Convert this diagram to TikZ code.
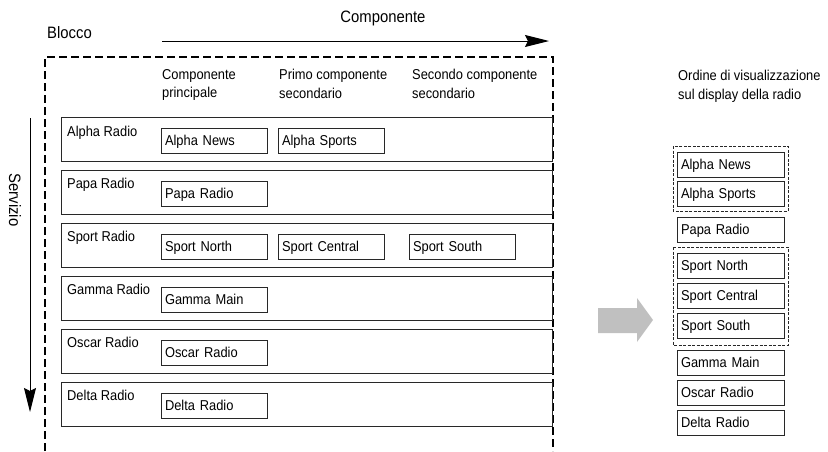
\documentclass[tikz,border=0pt]{standalone}
\usepackage{fontspec}
\setmainfont{Liberation Sans}[FakeStretch=0.9]
\usetikzlibrary{arrows.meta}
\definecolor{linegray}{RGB}{40,40,40}
\definecolor{arrowgray}{RGB}{192,192,192}
\tikzset{
  rowbox/.style={draw=linegray, line width=1.2pt, anchor=north west, minimum width=491pt, minimum height=44pt, inner sep=0pt},
  itembox/.style={draw=linegray, line width=1.1pt, anchor=north west, text width=99pt, inner xsep=3.5pt, inner ysep=0pt, minimum height=25pt, align=left, text height=10.5pt, text depth=2.5pt, font=\fontsize{14.3}{16}\selectfont},
  listbox/.style={itembox, text width=100pt},
  rowlabel/.style={anchor=base west, inner sep=0pt, font=\fontsize{14.3}{16}\selectfont},
  header/.style={anchor=north west, inner sep=0pt, align=left, font=\fontsize{14.3}{18.5}\selectfont},
  biglabel/.style={inner sep=0pt, font=\fontsize{16.5}{18}\selectfont},
  blockline/.style={draw=black, line width=1.9pt, dash pattern=on 8pt off 4pt},
  groupline/.style={draw=linegray, line width=0.9pt, dash pattern=on 3pt off 1.5pt},
  axisarrow/.style={draw=black, line width=1pt, -{Stealth[length=24pt, width=12pt, inset=3pt]}}
}
\begin{document}
\begin{tikzpicture}[x=1pt, y=-1pt]
\useasboundingbox (0,0) rectangle (828,451);

% titles and axes
\node[biglabel, anchor=west] (blocco) at (47,33) {Blocco};
\node[biglabel] (comp) at (383,18) {Componente};
\coordinate (ca) at (162,41);
\coordinate (cb) at (549,41);
\draw[axisarrow] (ca) -- (cb);
\node[biglabel, rotate=-90] (serv) at (15,200) {Servizio};
\coordinate (sa) at (30,118);
\coordinate (sb) at (30,412);
\draw[axisarrow] (sa) -- (sb);

% block (dashed, open at the bottom)
\coordinate (b1) at (45,451);
\coordinate (b2) at (45,57);
\coordinate (b3) at (553,57);
\coordinate (b4) at (553,451);
\draw[blockline] (b1) -- (b2) -- (b3) -- (b4);

% column headers
\node[header] (h1) at (162,69) {Componente\\principale};
\node[header] (h2) at (279,69) {Primo componente\\secondario};
\node[header] (h3) at (412,69) {Secondo componente\\secondario};

% rows
\node[rowbox] (r1) at (61,117) {};
\node[rowbox] (r2) at (61,170) {};
\node[rowbox] (r3) at (61,223) {};
\node[rowbox] (r4) at (61,276) {};
\node[rowbox] (r5) at (61,329) {};
\node[rowbox] (r6) at (61,382) {};

\node[rowlabel] (l1) at (67,136) {Alpha Radio};
\node[rowlabel] (l2) at (67,188) {Papa Radio};
\node[rowlabel] (l3) at (67,241) {Sport Radio};
\node[rowlabel] (l4) at (67,294) {Gamma Radio};
\node[rowlabel] (l5) at (67,347) {Oscar Radio};
\node[rowlabel] (l6) at (67,400) {Delta Radio};

\node[itembox] (a1) at (161,128) {Alpha News};
\node[itembox] (a2) at (278,128) {Alpha Sports};
\node[itembox] (p1) at (161,181) {Papa Radio};
\node[itembox] (s1) at (161,234) {Sport North};
\node[itembox] (s2) at (278,234) {Sport Central};
\node[itembox] (s3) at (409,234) {Sport South};
\node[itembox] (g1) at (161,287) {Gamma Main};
\node[itembox] (o1) at (161,340) {Oscar Radio};
\node[itembox] (d1) at (161,393) {Delta Radio};

% big gray arrow
\fill[arrowgray] (598,308) -- (637,308) -- (637,298) -- (653,320) -- (637,342) -- (637,333) -- (598,333) -- cycle;

% display order
\node[header] (ord) at (678,70) {Ordine di visualizzazione\\sul display della radio};
\node[listbox] (q1) at (677,152) {Alpha News};
\node[listbox] (q2) at (677,181) {Alpha Sports};
\node[listbox] (q3) at (677,217) {Papa Radio};
\node[listbox] (q4) at (677,253) {Sport North};
\node[listbox] (q5) at (677,283) {Sport Central};
\node[listbox] (q6) at (677,313) {Sport South};
\node[listbox] (q7) at (677,350) {Gamma Main};
\node[listbox] (q8) at (677,380) {Oscar Radio};
\node[listbox] (q9) at (677,410) {Delta Radio};
\draw[groupline] (673,146) rectangle (788,211);
\draw[groupline] (673,247) rectangle (788,345);
\end{tikzpicture}
\end{document}
